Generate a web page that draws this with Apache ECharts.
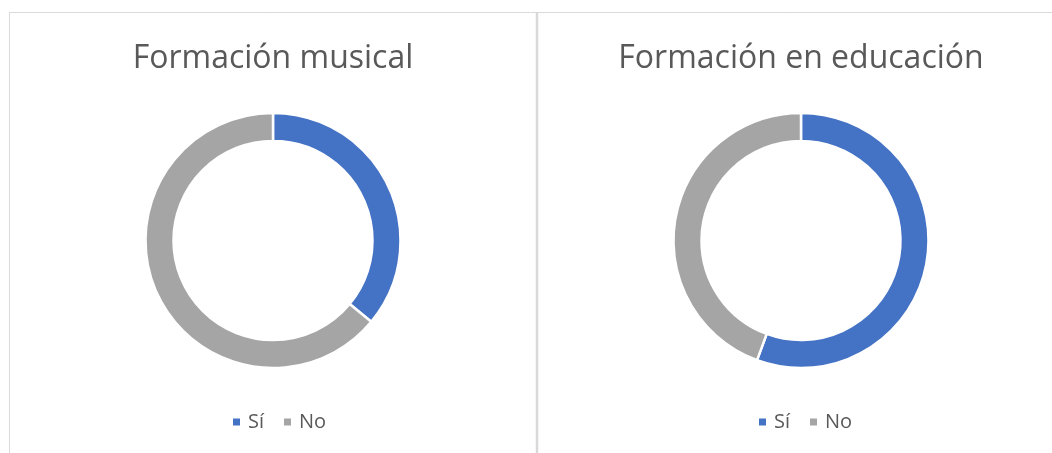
<!DOCTYPE html>
<html>
<head>
<meta charset="utf-8">
<script src="https://cdn.jsdelivr.net/npm/echarts@6/dist/echarts.min.js"></script>
<style>
html,body{margin:0;padding:0;background:#fff;}
#c{width:1052px;height:453px;}
</style>
</head>
<body>
<div id="c"></div>
<script>
const categories = ['Sí', 'No'];
const titles = ['Formación musical', 'Formación en educación'];
const musicalValues = [36, 64];
const educacionValues = [55.6, 44.4];
const colors = ['#4472C4', '#A5A5A5'];

const chart = echarts.init(document.getElementById('c'), null, {renderer: 'canvas'});
const centersX = [273, 801];
const titleX = [268, 796];
const legendLeft = [231, 757];
const seriesData = [musicalValues, educacionValues];

const option = {
  animation: false,
  color: colors,
  title: titles.map((t, i) => ({
    text: t,
    left: titleX[i],
    textAlign: 'center',
    top: 38,
    textStyle: {fontFamily: 'Open Sans', fontSize: 32, fontWeight: 'normal', color: '#595959'}
  })),
  legend: seriesData.map((d, i) => ({
    data: categories,
    seriesIndex: i,
    left: legendLeft[i],
    top: 412,
    padding: 0,
    icon: 'rect',
    itemWidth: 9,
    itemHeight: 9,
    itemGap: 18,
    selectedMode: false,
    textStyle: {fontFamily: 'Open Sans', fontSize: 20, color: '#595959', padding: [0, 0, 0, 2]}
  })),
  series: seriesData.map((d, i) => ({
    name: titles[i],
    type: 'pie',
    center: [centersX[i], 240.5],
    radius: [99.5, 127.5],
    startAngle: 90,
    clockwise: true,
    label: {show: false},
    labelLine: {show: false},
    emphasis: {disabled: true},
    itemStyle: {borderColor: '#fff', borderWidth: 2.5},
    data: categories.map((c, j) => ({name: c, value: d[j]}))
  })),
  graphic: [
    {type: 'line', shape: {x1: 9, y1: 12.5, x2: 1052, y2: 12.5}, style: {stroke: '#d9d9d9', lineWidth: 1}},
    {type: 'line', shape: {x1: 9.5, y1: 12, x2: 9.5, y2: 453}, style: {stroke: '#d9d9d9', lineWidth: 1}},
    {type: 'line', shape: {x1: 537, y1: 12, x2: 537, y2: 453}, style: {stroke: '#d9d9d9', lineWidth: 2.5}}
  ]
};
chart.setOption(option);
</script>
</body>
</html>
